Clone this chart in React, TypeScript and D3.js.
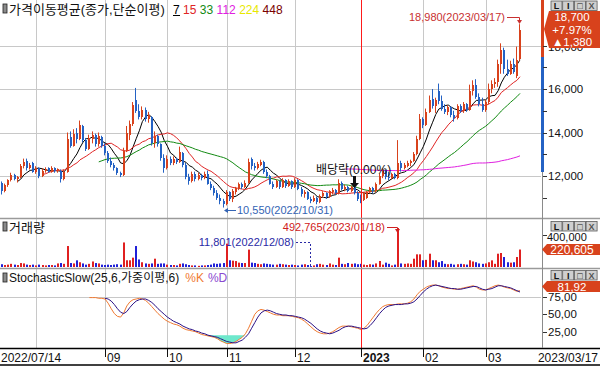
import React from "react";
import * as d3 from "d3";

const W = 600;
const H = 366;

// ---- price data (index 0 = 2022/07/14 ... 167 = 2023/03/17) ----
const opens = [11500,11700,11300,11600,11800,12050,11850,11950,12450,12700,12350,12600,12200,12350,12000,12250,12350,12200,12350,12250,12250,11850,12200,13800,13400,14000,13700,14300,13650,13250,13700,13900,13450,13800,13400,13050,12700,12500,12350,12150,12050,13150,13900,14400,15500,15000,14700,15050,14600,14700,13500,13850,13450,12850,12350,12800,12600,12800,12650,13050,12500,11950,11750,12100,11850,12050,11900,12100,11650,11450,11200,11000,10850,10700,11250,10950,11250,11400,11650,11500,11700,12800,12450,12350,12500,12650,12200,12000,11650,11500,11750,11500,11800,11550,11750,11500,11800,11400,11150,11250,10950,10850,11000,10800,11100,11200,11050,11250,11350,11200,11700,11400,11500,11300,11500,11200,10950,10900,11000,11250,11450,11300,11650,12000,12250,11950,11900,12100,11900,12600,12350,12450,12600,12700,13000,13700,14600,14350,14950,15550,15200,15900,15450,15100,14950,15150,14800,14650,15200,15000,15300,15050,15900,16200,15650,15300,15050,15400,16000,16250,16300,17150,17800,16900,16700,17150,16600,17400];
const highs = [11800,11750,11650,11850,12150,12100,12000,12550,12800,12800,12600,12650,12450,12400,12350,12400,12400,12450,12400,12350,12300,12300,14000,14050,14150,14200,14550,14350,13750,13900,14050,13950,14000,13850,13500,13150,12850,12600,12400,12200,13300,14300,14550,15400,16050,15300,15200,15150,14950,14750,14050,13900,13500,13000,12950,12900,12900,12850,13350,13100,12600,12100,12200,12200,12150,12100,12200,12250,11750,11550,11350,11150,10950,11350,11300,11400,11500,11700,11700,11800,12800,12850,12600,12650,12750,12700,12300,12050,11750,11850,11800,11900,11850,11850,11800,11900,11850,11500,11350,11300,11050,11100,11050,11150,11300,11250,11350,11450,11400,11850,11750,11600,11550,11550,11600,11300,11150,11250,11300,11500,11500,11700,12100,12350,12300,12200,12150,12150,13650,12700,12600,12700,12750,13100,13850,14850,14700,15100,15700,16000,15600,16250,15700,15300,15250,15200,15000,15300,15300,15400,15350,16200,16400,16450,15800,15600,15500,16250,16400,16500,17350,18100,17900,17350,17300,17400,17950,18980];
const lows = [11400,11150,11250,11500,11750,11800,11700,11900,12350,12250,12300,12150,12100,11900,11950,12150,12150,12150,12150,12150,11700,11800,12150,13300,13350,13500,13650,13550,13150,13200,13500,13350,13350,13300,12950,12600,12400,12250,12050,11950,12000,13100,13650,14300,14900,14600,14600,14500,14450,13400,13300,13350,12700,12150,12300,12500,12500,12550,12600,12400,11850,11600,11700,11750,11800,11800,11850,11600,11350,11100,10900,10700,10550,10650,10850,10800,11150,11350,11400,11450,11650,12300,12250,12300,12450,12100,11900,11600,11400,11450,11400,11450,11450,11500,11400,11450,11350,11050,11000,10900,10750,10800,10700,10750,11000,10950,11000,11150,11150,11150,11350,11300,11250,11250,11150,10850,10750,10850,10950,11200,11200,11250,11600,11900,11850,11800,11850,11850,11850,12200,12300,12400,12450,12650,12950,13650,14200,14300,14900,15100,14900,15300,15000,14850,14800,14700,14500,14600,14900,14900,14950,15000,15700,15550,15200,14950,14950,15300,15800,16050,16100,16700,16700,16600,16650,16700,16500,17300];
const closes = [11700,11300,11600,11800,12050,11850,11950,12450,12650,12350,12500,12200,12350,12000,12250,12300,12200,12350,12250,12300,11850,12200,13700,13400,13950,13700,14350,13650,13250,13750,13900,13450,13850,13400,13050,12700,12500,12350,12150,12050,13150,14000,14400,15250,15000,14700,15050,14600,14800,13500,13850,13450,12850,12350,12800,12600,12800,12650,13100,12500,11950,11750,12100,11850,12050,11900,12100,11650,11450,11200,11000,10850,10700,11250,10950,11300,11450,11650,11500,11700,12650,12450,12350,12550,12650,12200,12000,11650,11500,11750,11500,11800,11550,11750,11500,11800,11400,11150,11250,10950,10850,11000,10800,11100,11200,11050,11300,11350,11200,11700,11400,11500,11300,11500,11200,10950,10900,11200,11250,11450,11300,11650,12000,12250,11950,11900,12100,11900,12600,12350,12500,12600,12700,13000,13700,14600,14350,14950,15500,15200,15500,15450,15100,14950,15150,14800,14650,15200,15000,15300,15050,15900,16200,15650,15300,15050,15400,16000,16250,16300,17150,17800,16900,16700,17150,16800,17320,18700];
const volumes = [30000,35000,25000,30000,40000,30000,25000,50000,45000,30000,25000,30000,20000,30000,25000,20000,25000,25000,20000,45000,50000,40000,265000,50000,45000,84000,60000,45000,30000,40000,70000,50000,45000,30000,25000,30000,25000,30000,35000,30000,310000,85000,85000,118000,265000,95000,60000,45000,40000,45000,105000,40000,45000,45000,30000,25000,25000,20000,40000,45000,35000,25000,20000,20000,15000,20000,20000,25000,30000,45000,40000,45000,50000,295000,85000,80000,75000,55000,50000,50000,220000,55000,50000,40000,35000,45000,40000,35000,30000,30000,40000,35000,30000,25000,30000,25000,20000,30000,35000,25000,11801,20000,35000,40000,30000,25000,45000,30000,25000,118000,40000,35000,50000,40000,45000,35000,40000,30000,25000,35000,30000,45000,76000,30000,55000,40000,20000,30000,492765,45000,40000,45000,40000,105000,160000,160000,85000,90000,168000,85000,85000,60000,75000,40000,35000,40000,30000,35000,40000,35000,30000,85000,70000,60000,45000,40000,45000,60000,84000,40000,168000,177000,126000,60000,55000,60000,126000,220605];

// ---- stochastic slow values ----
const stochKStart = 29;
const stochK = [74,74,74,73,73,72,66,58,51,47,46,52,62,68,71,72,73,72,70,66,61,56,51,47,43,40,38,36,35,33,30,28,27,26,25,23,21,20,19,18,17,15,12,10,8,8,9,11,14,17,22,30,40,50,55,57,56,54,52,50,49,49,48,48,48,47,46,45,43,40,36,32,28,25,23,22,22,23,25,28,31,33,33,33,32,31,30,28,30,34,40,46,52,57,61,63,64,64,64,65,65,65,66,68,72,78,83,86,89,91,92,92,91,89,88,87,87,86,86,87,88,89,90,91,89,86,85,85,87,89,91,92,91,89,88,87,85,83,84];
const stochDStart = 34;
const stochD = [73,72,69,64,58,53,51,54,60,65,69,71,72,72,70,67,63,58,54,50,46,43,40,38,36,33,31,29,28,26,25,23,22,20,19,18,17,15,13,11,10,9,9,11,13,17,22,30,38,46,52,55,56,55,53,51,50,49,49,48,48,47,46,45,43,40,37,33,29,26,24,23,22,23,25,27,30,32,33,33,32,31,30,29,30,34,39,45,51,56,60,62,63,64,64,64,65,65,66,68,72,77,82,86,89,91,92,91,90,89,88,87,87,86,86,87,88,89,90,90,88,86,85,86,87,89,91,91,90,89,88,86,84,82];

// ---- axis labels ----
const monthIdx = [12, 34, 54, 73, 95, 116, 136, 156];
const monthLabels = ["", "09", "10", "11", "12", "2023", "02", "03"];
const yearIdx = 116;
const firstDate = "2022/07/14";
const lastDate = "2023/03/17";
const priceTicks = [12000, 14000, 16000, 18000];
const priceMinor = [11000, 13000, 15000, 17000];
const volTicks = [400000];
const stochTicks = [25, 50, 75];
const maPeriods = [7, 15, 33, 112, 224, 448];
const maColors = ["#000000", "#e02424", "#128a12", "#e020e0", "#e8e800", "#7a0000"];

const UP = "#d8421c";
const DOWN = "#2462c4";
const VUP = "#e02020";
const VDOWN = "#2020d8";
const NUM = "'Liberation Sans', Arial, sans-serif";
const KR = "'Liberation Sans', 'Noto Sans CJK KR', sans-serif";

function Buttons({ y }: { y: number }) {
  const labels = ["L", "I", "□", "X"];
  return (
    <g>
      {labels.map((l, k) => (
        <g key={k}>
          <rect x={551 + k * 11.7} y={y} width={11} height={9.5} fill="#cfcfcf" stroke="#5a5a5a" strokeWidth={0.8} />
          <text x={556.5 + k * 11.7} y={y + 8.3} fontSize={9} fontFamily={NUM} fontWeight="bold"
            textAnchor="middle" fill={k === 3 ? "#555" : "#111"}>{l}</text>
        </g>
      ))}
    </g>
  );
}

export default function App() {
  const n = closes.length;
  const xs = d3.scaleLinear().domain([0, n - 1]).range([-1.1, 520]);
  const yP = d3.scaleLinear().domain([12000, 16000]).range([176, 89]);
  const yV = d3.scaleLinear().domain([0, 492765]).range([267, 228]);
  const yS = d3.scaleLinear().domain([0, 100]).range([349.1, 279.5]);

  const sma = (p: number) =>
    closes.map((_, i) => (i < p - 1 ? null : (d3.mean(closes.slice(i - p + 1, i + 1)) as number)));
  const maLine = d3.line<number | null>()
    .defined((v) => v != null)
    .x((_, i) => xs(i))
    .y((v) => yP(v as number));

  const kLine = d3.line<number>().x((_, i) => xs(i + stochKStart)).y((v) => yS(v));
  const dLine = d3.line<number>().x((_, i) => xs(i + stochDStart)).y((v) => yS(v));
  const fillArea = d3.area<number>()
    .x((_, i) => xs(i + stochKStart))
    .y0(yS(20))
    .y1((v) => yS(Math.min(v, 20)));

  const px = (i: number) => Math.round(xs(i));

  return (
    <svg width={W} height={H} style={{ position: "absolute", left: 0, top: 0, background: "#fff" }}>
      <defs>
        <clipPath id="cp"><rect x={0} y={0} width={541} height={217} /></clipPath>
        <clipPath id="cv"><rect x={0} y={220} width={541} height={47} /></clipPath>
        <clipPath id="cs"><rect x={0} y={270} width={541} height={78} /></clipPath>
      </defs>
      <rect x={0} y={0} width={W} height={H} fill="#fff" />

      {/* vertical month grid */}
      {monthIdx.map((i, k) =>
        i === yearIdx ? null : (
          <line key={"g" + k} x1={px(i) + 0.5} x2={px(i) + 0.5} y1={0} y2={348} stroke="#c8c8c8" strokeWidth={1} />
        )
      )}
      {/* horizontal grids */}
      {priceTicks.map((t) => (
        <line key={"hp" + t} x1={0} x2={541} y1={Math.round(yP(t)) + 0.5} y2={Math.round(yP(t)) + 0.5} stroke="#c8c8c8" />
      ))}
      <line x1={0} x2={541} y1={Math.round(yS(75)) + 0.5} y2={Math.round(yS(75)) + 0.5} stroke="#c8c8c8" />

      {/* price panel */}
      <g clipPath="url(#cp)">
        {maPeriods.map((p, k) => (
          <path key={"ma" + p} d={maLine(sma(p)) || ""} fill="none" stroke={maColors[k]} strokeWidth={1} />
        ))}
        {closes.map((c, i) => {
          const up = c >= opens[i];
          const col = up ? UP : DOWN;
          const x = px(i);
          const top = Math.round(yP(Math.max(c, opens[i])));
          const bot = Math.round(yP(Math.min(c, opens[i])));
          return (
            <g key={"c" + i}>
              <line x1={x - 0.5} x2={x - 0.5} y1={yP(highs[i])} y2={yP(lows[i])} stroke={col} strokeWidth={1} />
              <rect x={x - 1} y={top} width={2} height={Math.max(1, bot - top)} fill={col} />
            </g>
          );
        })}
      </g>

      {/* volume panel */}
      <g clipPath="url(#cv)">
        {volumes.map((v, i) => {
          const up = closes[i] >= opens[i];
          const y = yV(v);
          return <rect key={"v" + i} x={px(i) - 1} y={y} width={2} height={Math.max(1, yV(0) - y)} fill={up ? VUP : VDOWN} />;
        })}
      </g>

      {/* stochastic panel */}
      <g clipPath="url(#cs)">
        <path d={fillArea(stochK) || ""} fill="#6ee8cc" />
        <path d={kLine(stochK) || ""} fill="none" stroke="#f07a32" strokeWidth={1} />
        <path d={dLine(stochD) || ""} fill="none" stroke="#2c1286" strokeWidth={1} />
      </g>

      {/* year separator */}
      <rect x={px(yearIdx)} y={0} width={1} height={348} fill="#ff1a1a" />

      {/* panel separators */}
      <line x1={0} x2={W} y1={218.5} y2={218.5} stroke="#9a9a9a" strokeWidth={1.5} />
      <line x1={0} x2={W} y1={268.5} y2={268.5} stroke="#9a9a9a" strokeWidth={1.5} />
      <line x1={0} x2={W} y1={348.5} y2={348.5} stroke="#000" strokeWidth={1.5} />
      <line x1={0} x2={W} y1={365} y2={365} stroke="#000" strokeWidth={1.5} />

      {/* right axis */}
      <line x1={542.5} x2={542.5} y1={0} y2={348} stroke="#8a8a8a" strokeWidth={1} />
      <rect x={541} y={0} width={3} height={57} fill="#d8421c" />
      <rect x={541} y={57} width={3} height={115} fill="#2462c4" />
      {[...priceTicks, ...priceMinor].map((t) => (
        <line key={"pt" + t} x1={543} x2={547} y1={Math.round(yP(t)) + 0.5} y2={Math.round(yP(t)) + 0.5} stroke="#333" />
      ))}
      {priceTicks.map((t) => (
        <text key={"pl" + t} x={548} y={yP(t) + (t === 18000 ? 5 : 4)} fontSize={11.5} fontFamily={NUM} fill="#111">{d3.format(",")(t)}</text>
      ))}
      {volTicks.map((t) => (
        <g key={"vt" + t}>
          <line x1={543} x2={547} y1={Math.round(yV(t)) + 0.5} y2={Math.round(yV(t)) + 0.5} stroke="#333" />
          <text x={547} y={yV(t) + 6} fontSize={11} fontFamily={NUM} fill="#111">{d3.format(",")(t)}</text>
        </g>
      ))}
      {stochTicks.map((t) => (
        <g key={"st" + t}>
          <line x1={543} x2={547} y1={Math.round(yS(t)) + 0.5} y2={Math.round(yS(t)) + 0.5} stroke="#333" />
          <text x={548} y={yS(t) + 4} fontSize={11.5} fontFamily={NUM} fill="#111">{d3.format(".2f")(t).replace(".", ",")}</text>
        </g>
      ))}

      {/* value boxes */}
      <polygon points="549,11 544,29 549,48 600,48 600,11" fill="#d8421c" />
      <text x={572} y={21} fontSize={11.5} fontFamily={NUM} fill="#fff" textAnchor="middle">18,700</text>
      <text x={572} y={33.5} fontSize={11.5} fontFamily={NUM} fill="#fff" textAnchor="middle">+7.97%</text>
      <text x={572} y={46} fontSize={11.5} fontFamily={NUM} fill="#fff" textAnchor="middle">▲1,380</text>
      <polygon points="547,244 542,249.5 547,255 600,255 600,244" fill="#d8421c" />
      <text x={572} y={253.5} fontSize={12} fontFamily={NUM} fill="#fff" textAnchor="middle">220,605</text>
      <polygon points="547,281 542,286.5 547,292 600,292 600,281" fill="#d8421c" />
      <text x={572} y={290.5} fontSize={11.5} fontFamily={NUM} fill="#fff" textAnchor="middle">81,92</text>
      <Buttons y={1} />
      <Buttons y={221.5} />
      <Buttons y={270.5} />

      {/* titles */}
      <rect x={3} y={4} width={4} height={9} fill="#8a8a8a" stroke="#222" strokeWidth={0.8} />
      <text x={9} y={14} fontSize={13} fontFamily={KR} fill="#111">가격이동평균(종가,단순이평)</text>
      <text x={173} y={13.5} fontSize={12} fontFamily={NUM}>
        {maPeriods.map((p, k) => (
          <tspan key={p} fill={maColors[k]} dx={k === 0 ? 0 : 3.4}>{String(p)}</tspan>
        ))}
      </text>
      <line x1={173} x2={180} y1={15.5} y2={15.5} stroke="#000" />

      <rect x={3} y={222} width={4} height={9} fill="#8a8a8a" stroke="#222" strokeWidth={0.8} />
      <text x={9} y={231.5} fontSize={13} fontFamily={KR} fill="#111">거래량</text>

      <rect x={3} y={273} width={4} height={9} fill="#8a8a8a" stroke="#222" strokeWidth={0.8} />
      <text x={9} y={282} fontSize={12} fontFamily={KR} fill="#111">
        StochasticSlow(25,6,가중이평,6)
        <tspan fill="#f07a32" dx={6}>%K</tspan>
        <tspan fill="#8a4ad0" dx={4}>%D</tspan>
      </text>

      {/* annotations */}
      <text x={505} y={21} fontSize={11} fontFamily={NUM} fill="#c83030" textAnchor="end">18,980(2023/03/17)</text>
      <path d={`M507,17.5 H${px(167) - 0.5} V22`} fill="none" stroke="#c83030" />
      <polygon points={`${px(167) - 3},20 ${px(167) + 2},20 ${px(167) - 0.5},24`} fill="#c83030" />

      <text x={237} y={214} fontSize={11} fontFamily={NUM} fill="#3464b4">10,550(2022/10/31)</text>
      <path d={`M236,210.5 H${px(72) + 1}`} fill="none" stroke="#3464b4" />
      <polygon points={`${px(72)},210.5 ${px(72) + 4},208 ${px(72) + 4},213`} fill="#3464b4" />

      <text x={316} y={174} fontSize={12} fontFamily={KR} fill="#111">배당락(0.00%)</text>
      <rect x={353} y={176} width={3} height={7} fill="#111" />
      <polygon points="350,183 359,183 354.5,188" fill="#111" />

      <text x={385} y={231} fontSize={11} fontFamily={NUM} fill="#d02020" textAnchor="end">492,765(2023/01/18)</text>
      <path d={`M387,227.5 H${px(128) - 0.5} V231`} fill="none" stroke="#d02020" />
      <polygon points={`${px(128) - 3},229 ${px(128) + 2},229 ${px(128) - 0.5},233`} fill="#d02020" />

      <text x={294} y={246} fontSize={11} fontFamily={NUM} fill="#2a2aa6" textAnchor="end">11,801(2022/12/08)</text>
      <path d={`M296,242.5 H${px(100) - 0.5} V266`} fill="none" stroke="#2a2aa6" strokeDasharray="2,2" />

      {/* date axis */}
      <text x={1} y={362} fontSize={12} fontFamily={NUM} fill="#111">{firstDate}</text>
      {monthIdx.map((i, k) =>
        monthLabels[k] ? (
          <g key={"d" + k}>
            <line x1={px(i) + 0.5} x2={px(i) + 0.5} y1={349} y2={357} stroke="#111" />
            <text x={px(i) + 2} y={362} fontSize={12} fontFamily={NUM} fill="#111"
              fontWeight={i === yearIdx ? "bold" : "normal"}>{monthLabels[k]}</text>
          </g>
        ) : null
      )}
      <text x={598} y={362} fontSize={12} fontFamily={NUM} fill="#111" textAnchor="end">{lastDate}</text>
    </svg>
  );
}
